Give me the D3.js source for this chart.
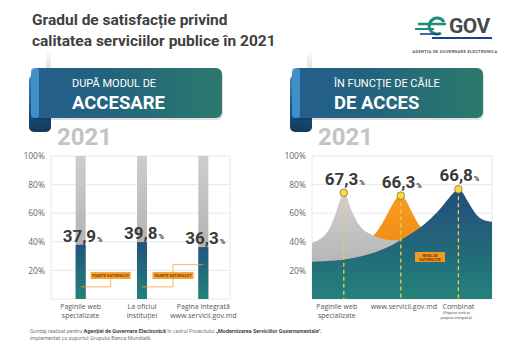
<!DOCTYPE html>
<html>
<head>
<meta charset="utf-8">
<script src="https://cdn.jsdelivr.net/npm/d3@7"></script>
<style>
  html, body { margin: 0; padding: 0; background: #fff; }
  svg { display: block; font-family: Roboto, "Open Sans", sans-serif; }
</style>
</head>
<body>
<svg id="chart" width="528" height="357"></svg>
<script>
// ---------- DATA ----------
const titleLines = ["Gradul de satisfacție privind", "calitatea serviciilor publice în 2021"];
const yTicks = [20, 40, 60, 80, 100];

const barCategories = ["web", "oficiu", "integrata"];
const barLabelLines = [["Paginile web", "specializate"], ["La oficiul", "instituției"], ["Pagina integrată", "www.servicii.gov.md"]];
const barValues = [37.9, 39.8, 36.3];

const curveCategories = ["web", "servicii", "combinat"];
const curveLabelLines = [["Paginile web", "specializate"], ["www.servicii.gov.md"], ["Combinat"]];
const combinatNote = ["(Pagina web și", "pagina integrată)"];
const curveValues = [67.3, 66.3, 66.8];

// curve outlines: [position along axis (0-3), value %]
const grayCurve = [[0, 39], [0.1, 41], [0.2, 44], [0.3, 50], [0.38, 58], [0.45, 67], [0.5, 72.5], [0.53, 74.3], [0.57, 72.5], [0.63, 65], [0.7, 58], [0.8, 51], [0.9, 47], [1.0, 45], [1.1, 43], [1.25, 41.5], [1.4, 41], [1.6, 41]];
const orangeCurve = [[0.9, 41], [1.06, 46], [1.2, 55], [1.34, 66], [1.42, 71], [1.48, 72.3], [1.55, 70], [1.65, 62], [1.75, 54], [1.85, 48], [2.0, 42]];
const blueCurve = [[0, 26], [0.3, 26.7], [0.65, 28.4], [1.0, 32], [1.25, 36], [1.48, 41.3], [1.7, 47], [1.92, 54], [2.14, 63.3], [2.31, 72], [2.39, 75.5], [2.44, 76.7], [2.5, 75], [2.6, 68], [2.74, 59], [2.85, 55.5], [3.0, 54]];
const peakPos = [0.53, 1.48, 2.44];
const peakVal = [74.3, 72.3, 76.7];

const calloutText = "FOARTE SATISFĂCUT";
const levelText = ["NIVEL DE", "SATISFACȚIE"];
const footerLines = [
  [["Sondaj realizat pentru ", false], ["Agenției de Guvernare Electronică", true], [" în cadrul Proiectului ", false], ["„Modernizarea Serviciilor Guvernamentale\"", true], [",", false]],
  [["implementat cu suportul Grupului Banca Mondială.", false]]
];

// ---------- SETUP ----------
const svg = d3.select("#chart");
const defs = svg.append("defs");
function vGrad(id, y1, y2, stops) {
  const g = defs.append("linearGradient").attr("id", id).attr("gradientUnits", "userSpaceOnUse")
    .attr("x1", 0).attr("x2", 0).attr("y1", y1).attr("y2", y2);
  stops.forEach(s => g.append("stop").attr("offset", s[0]).attr("stop-color", s[1]));
}
function hGrad(id, x1, x2, stops) {
  const g = defs.append("linearGradient").attr("id", id).attr("gradientUnits", "userSpaceOnUse")
    .attr("x1", x1).attr("x2", x2).attr("y1", 0).attr("y2", 0);
  stops.forEach(s => g.append("stop").attr("offset", s[0]).attr("stop-color", s[1]));
}
const y = d3.scaleLinear([0, 100], [299, 156]);

vGrad("barBg", 156, 299, [[0, "#cdcdcd"], [1, "#a4a4a4"]]);
vGrad("barFg", 240, 299, [[0, "#22507e"], [1, "#22837a"]]);
vGrad("grayA", 190, 299, [[0, "#d2d2d2"], [1, "#a8a8a8"]]);
vGrad("orangeA", 195, 260, [[0, "#f79a20"], [1, "#f08a1a"]]);
vGrad("blueA", 189, 299, [[0, "#224d7c"], [0.55, "#23687a"], [1, "#24827a"]]);
vGrad("curl", 70, 132, [[0, "#3f95d6"], [0.6, "#1d5684"], [1, "#123a5c"]]);
vGrad("shadowV", 50, 68, [[0, "#ffffff"], [1, "#e2e2e2"]]);

// ---------- TITLE & LOGO ----------
svg.append("g").selectAll("text").data(titleLines).join("text")
  .attr("x", 32).attr("y", (d, i) => 25 + i * 21)
  .attr("font-size", 15.5).attr("font-weight", 700).attr("fill", "#3f3f3f").text(d => d);

const logo = svg.append("g");
logo.append("path").attr("d", "M444,22 A8,8 0 1 0 441,33").attr("fill", "none").attr("stroke", "#1f8b79").attr("stroke-width", 3);
logo.append("line").attr("x1", 418).attr("x2", 446).attr("y1", 24).attr("y2", 24).attr("stroke", "#1f8b79").attr("stroke-width", 2.5);
logo.append("line").attr("x1", 415).attr("x2", 434).attr("y1", 29).attr("y2", 29).attr("stroke", "#1f8b79").attr("stroke-width", 2);
logo.append("line").attr("x1", 420).attr("x2", 440).attr("y1", 34).attr("y2", 34).attr("stroke", "#1e3f8a").attr("stroke-width", 1.6);
logo.append("line").attr("x1", 432).attr("x2", 492).attr("y1", 38).attr("y2", 38).attr("stroke", "#1e3f8a").attr("stroke-width", 2);
logo.append("text").attr("x", 449).attr("y", 33).attr("font-size", 21).attr("font-weight", 700)
  .attr("fill", "#4a4a4a").attr("letter-spacing", -0.5).text("GOV");
logo.append("text").attr("x", 455).attr("y", 53).attr("text-anchor", "middle").attr("font-size", 4).attr("font-weight", 700)
  .attr("fill", "#555").attr("letter-spacing", 0.35).text("AGENȚIA DE GUVERNARE ELECTRONICĂ");

// ---------- BANNERS ----------
function banner(x0, x1, line1, line2, textX) {
  const g = svg.append("g");
  g.append("rect").attr("x", x0 + 15).attr("y", 50).attr("width", 5).attr("height", 18).attr("fill", "url(#shadowV)");
  hGrad("bn" + x0, x0, x1, [[0, "#245f8e"], [0.35, "#23617f"], [1, "#2b7a6c"]]);
  g.append("rect").attr("x", x0 - 2).attr("y", 75).attr("width", 22).attr("height", 57).attr("rx", 5).attr("fill", "url(#curl)");
  g.append("rect").attr("x", x0 + 1).attr("y", 70).attr("width", x1 - x0).attr("height", 50).attr("rx", 6).attr("fill", "#000").attr("opacity", 0.12);
  g.append("rect").attr("x", x0).attr("y", 68).attr("width", x1 - x0).attr("height", 50).attr("rx", 6).attr("fill", "url(#bn" + x0 + ")");
  g.append("rect").attr("x", x0).attr("y", 68).attr("width", 8).attr("height", 50).attr("rx", 3).attr("fill", "#4c9ddb").attr("opacity", 0.75);
  g.append("text").attr("x", textX).attr("y", 87).attr("font-size", 11).attr("fill", "#fff").text(line1);
  g.append("text").attr("x", textX).attr("y", 109).attr("font-size", 18.5).attr("font-weight", 700).attr("fill", "#fff").text(line2);
}
banner(31, 222, "DUPĂ MODUL DE", "ACCESARE", 72);
banner(292, 483, "ÎN FUNCȚIE DE CĂILE", "DE ACCES", 334);

svg.append("text").attr("x", 57).attr("y", 145).attr("font-size", 24).attr("font-weight", 700).attr("fill", "#c3c3c3").text("2021");
svg.append("text").attr("x", 318).attr("y", 145).attr("font-size", 24).attr("font-weight", 700).attr("fill", "#c3c3c3").text("2021");

// ---------- GRID helper ----------
function grid(left, right) {
  const g = svg.append("g");
  g.selectAll("line.h").data([0, ...yTicks]).join("line")
    .attr("x1", left).attr("x2", right).attr("y1", d => y(d)).attr("y2", d => y(d))
    .attr("stroke", "#e2e2e2").attr("stroke-width", 0.8);
  [left, right].forEach(xx => g.append("line").attr("x1", xx).attr("x2", xx).attr("y1", y(100)).attr("y2", y(0))
    .attr("stroke", "#e2e2e2").attr("stroke-width", 0.8));
  const ax = svg.append("g").attr("transform", `translate(${left - 3},0)`)
    .call(d3.axisLeft(y).tickValues(yTicks).tickSize(0).tickFormat(d => d + "%"));
  ax.select(".domain").remove();
  ax.selectAll("text").attr("font-family", "Open Sans, Roboto, sans-serif").attr("font-size", 8.5).attr("fill", "#666");
}

// ---------- LEFT CHART ----------
grid(51, 230);
const xb = d3.scaleBand(barCategories, [50, 234]);
const bw = 10;
const cx = c => xb(c) + xb.bandwidth() / 2;

svg.append("g").selectAll("rect").data(barCategories).join("rect")
  .attr("x", d => cx(d) - bw / 2).attr("y", y(100)).attr("width", bw).attr("height", y(0) - y(100))
  .attr("fill", "url(#barBg)");
svg.append("g").selectAll("rect").data(barValues).join("rect")
  .attr("x", (d, i) => cx(barCategories[i]) - bw / 2).attr("y", d => y(d)).attr("width", bw)
  .attr("height", d => y(0) - y(d)).attr("fill", "url(#barFg)");

const fmt = v => String(v).replace(".", ",");
const bl = svg.append("g").selectAll("text").data(barValues).join("text")
  .attr("x", (d, i) => cx(barCategories[i]) + 2).attr("y", d => y(d) - 3)
  .attr("text-anchor", "middle").attr("font-weight", 700).attr("fill", "#3a3a3a");
bl.append("tspan").attr("font-size", 17).text(d => fmt(d));
bl.append("tspan").attr("font-size", 7.5).attr("dx", 1).text("%");

// callouts
const c0 = cx(barCategories[0]), c1 = cx(barCategories[1]), c2 = cx(barCategories[2]);
const lowY = y(8.5), highY = y(24), boxY = y(16.4);
const cl = svg.append("g");
cl.append("path").attr("d", `M${c0},${lowY}H${c0 + 30}V${boxY}`).attr("fill", "none").attr("stroke", "#f2a23c").attr("stroke-width", 0.8);
cl.append("path").attr("d", `M${c1},${lowY}H${c1 + 31}V${highY}H${c2}`).attr("fill", "none").attr("stroke", "#f2a23c").attr("stroke-width", 0.8);
[[c0 + 30, 40], [c1 + 31, 41]].forEach(([bx, w]) => {
  cl.append("rect").attr("x", bx - w / 2).attr("y", boxY - 3.5).attr("width", w).attr("height", 7).attr("fill", "#f5a234");
  cl.append("text").attr("x", bx).attr("y", boxY + 1.4).attr("text-anchor", "middle").attr("font-size", 3.8)
    .attr("font-weight", 700).attr("fill", "#7a3a00").text(calloutText);
});

svg.append("g").selectAll("text").data(barLabelLines).join("text")
  .attr("text-anchor", "middle").attr("font-size", 7).attr("fill", "#555")
  .attr("font-family", "Open Sans, Roboto, sans-serif")
  .each(function (lines, i) {
    d3.select(this).selectAll("tspan").data(lines).join("tspan")
      .attr("x", cx(barCategories[i])).attr("y", (d, j) => 309 + j * 8.5).text(d => d);
  });

// ---------- RIGHT CHART ----------
grid(312, 492);
const xc = d3.scaleLinear([0, 3], [312, 492]);
const area = d3.area().x(d => xc(d[0])).y0(y(0)).y1(d => y(d[1])).curve(d3.curveCatmullRom.alpha(0.5));
const ar = svg.append("g");
ar.append("path").datum(orangeCurve).attr("d", area).attr("fill", "url(#orangeA)");
ar.append("path").datum(grayCurve).attr("d", area).attr("fill", "url(#grayA)");
ar.append("path").datum(blueCurve).attr("d", area).attr("fill", "url(#blueA)");

svg.append("g").selectAll("line").data(peakPos).join("line")
  .attr("x1", d => xc(d)).attr("x2", d => xc(d)).attr("y1", (d, i) => y(peakVal[i])).attr("y2", y(0))
  .attr("stroke", "#ecd04c").attr("stroke-width", 1.3).attr("stroke-dasharray", "4,3");

// level box
const lv = svg.append("g");
lv.append("rect").attr("x", 415).attr("y", 252).attr("width", 30).attr("height", 10).attr("fill", "#f39a24");
lv.selectAll("text").data(levelText).join("text").attr("x", 430).attr("y", (d, i) => 256.5 + i * 4)
  .attr("text-anchor", "middle").attr("font-size", 3.6).attr("font-weight", 700).attr("fill", "#6a3200").text(d => d);

svg.append("g").selectAll("circle").data(peakPos).join("circle")
  .attr("cx", d => xc(d)).attr("cy", (d, i) => y(peakVal[i])).attr("r", 3.8)
  .attr("fill", "#f7d94a").attr("stroke", "#8a7326").attr("stroke-width", 0.8);

const cvl = svg.append("g").selectAll("text").data(curveValues).join("text")
  .attr("x", (d, i) => xc(peakPos[i]) + 1).attr("y", (d, i) => y(peakVal[i]) - 8)
  .attr("text-anchor", "middle").attr("font-weight", 700).attr("fill", "#3a3a3a");
cvl.append("tspan").attr("font-size", 17).text(d => fmt(d));
cvl.append("tspan").attr("font-size", 7.5).attr("dx", 1).text("%");

svg.append("g").selectAll("text").data(curveLabelLines).join("text")
  .attr("text-anchor", "middle").attr("font-size", 7).attr("fill", "#555")
  .attr("font-family", "Open Sans, Roboto, sans-serif")
  .each(function (lines, i) {
    d3.select(this).selectAll("tspan").data(lines).join("tspan")
      .attr("x", xc(peakPos[i]) - (i === 0 ? 7 : (i === 1 ? -3 : 0))).attr("y", (d, j) => 309 + j * 8.5).text(d => d);
  });
svg.append("g").selectAll("text").data(combinatNote).join("text")
  .attr("x", xc(peakPos[2]) - 2).attr("y", (d, i) => 314 + i * 4.6).attr("text-anchor", "middle")
  .attr("font-size", 4.2).attr("fill", "#666").text(d => d);

// ---------- FOOTER ----------
svg.append("g").selectAll("text").data(footerLines).join("text")
  .attr("x", 30).attr("y", (d, i) => 333 + i * 6.5).attr("font-size", 5.4).attr("fill", "#777")
  .each(function (parts) {
    d3.select(this).selectAll("tspan").data(parts).join("tspan")
      .attr("font-weight", p => p[1] ? 700 : 400).attr("fill", p => p[1] ? "#444" : "#777").text(p => p[0]);
  });
</script>
</body>
</html>
